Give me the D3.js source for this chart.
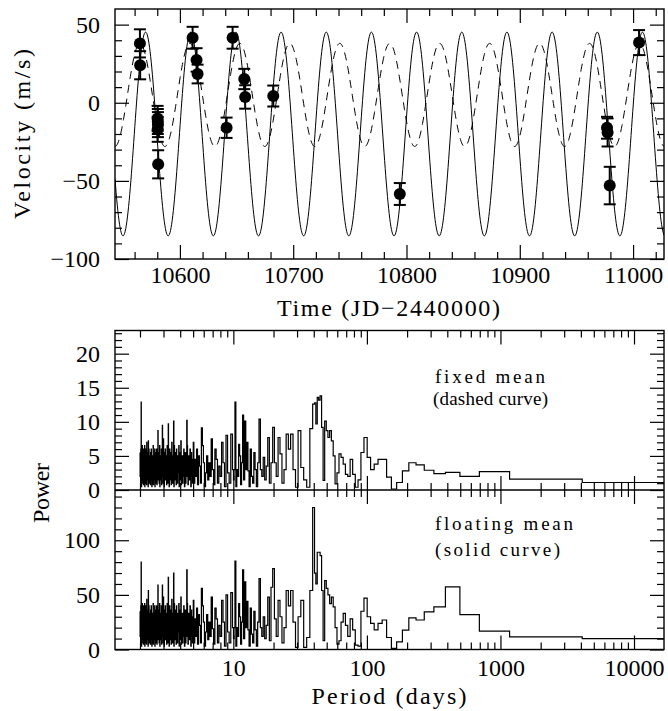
<!DOCTYPE html>
<html>
<head>
<meta charset="utf-8">
<script src="https://cdn.jsdelivr.net/npm/d3@7"></script>
<style>
  body { margin: 0; background: #fff; }
  text { font-family: "Liberation Serif", "DejaVu Serif", serif; fill: #000; }
</style>
</head>
<body>
<svg id="chart" width="668" height="711"></svg>
<script>
const SVG = d3.select("#chart");
const SERIF = '"Liberation Serif", "DejaVu Serif", serif';
const TICK_FONT = 24;
const TITLE_FONT = 24;
const NOTE_FONT = 19;

// radial velocity observations (JD-2440000, m/s)
const OBS_TIME = [10564.7, 10564.9, 10580.3, 10580.5, 10580.6, 10580.4, 10580.8, 10611.2, 10614.7, 10615.6,
  10641.2, 10646.5, 10656.8, 10657.6, 10682.4, 10794.1, 10977.0, 10977.5, 10979.4, 11005.3];
const OBS_VEL = [38, 24, -10, -12, -14, -17, -39.4, 41.6, 27.4, 18.4,
  -16, 41.6, 15.2, 3.7, 4.3, -58.4, -16, -19, -53, 38.5];
const OBS_ERR = [9, 9, 8, 8, 8, 8, 9, 7, 7.5, 6,
  6.5, 7, 6.5, 7.5, 6.7, 7, 7, 9, 12, 8];

// fitted sine curves
const FIT_SOLID = { mean: -20, amp: 65.2, period: 39.87, tmax: 10569.7 };
const FIT_DASHED = { mean: 5, amp: 33, period: 44.1, tmax: 10697 };

const TIME_DOMAIN = [10542.7, 11027.3];
const VEL_DOMAIN = [-100, 60];
const TIME_MAJOR = [10600, 10700, 10800, 10900, 11000];
const VEL_MAJOR = [-100, -50, 0, 50];

// periodograms: first bin is the longest period, then frequency grids
const PERIOD_DOMAIN = [1.3, 16770];
const LONG_BIN_PERIOD = 10350;
const LOW_F0 = 5.1e-5, LOW_DF = 5.66e-4;   // k = 1..44
const MID_F0 = 0.026, MID_DF = 0.0015;     // 38 d .. 10 d
const HIGH_F0 = 0.1, HIGH_DF = 0.003;      // 10 d .. 5 d
const VHIGH_F0 = 0.2, VHIGH_DF = 0.0015;   // 5 d .. 2 d

const FIXED_LOW = [1.1, 1.6, 2.7, 2.0, 2.6, 2.4, 2.9, 3.7, 4.0, 2.8,
  1.1, 0.15, 1.9, 4.5, 4.5, 3.8, 3.0, 4.8, 7.7, 5.5,
  1.5, 0.4, 2.3, 4.5, 2.0, 2.3, 3.8, 4.8, 5.3, 2.5,
  0.9, 5.0, 7.2, 8.7, 7.7, 8.7, 10.1, 1.4, 9.2, 13.8,
  13.2, 13.6, 9.7, 12.8, 12.6];
const FIXED_MID = [9.0, 0.4, 1.5, 3.3, 8.7, 0.4, 3.0, 8.2, 6.0, 8.2,
  3.0, 1.0, 5.3, 7.7, 2.0, 4.0, 9.2, 4.0, 1.0, 7.7,
  3.5, 1.5, 4.8, 2.0, 3.0, 10.4, 4.0, 0.5, 3.0, 5.5,
  1.0, 2.0, 6.0, 0.5, 2.8, 7.0, 3.0, 10.1, 1.5, 11.0,
  4.0, 0.8, 5.0, 6.7, 2.0, 3.0, 0.5, 12.9, 3.0, 1.5];
const FIXED_HIGH = [3.0, 8.2, 1.0, 2.5, 8.0, 0.5, 4.0, 7.0, 2.0, 3.5,
  1.0, 4.5, 6.0, 0.8, 3.0, 7.5, 2.0, 4.0, 1.5, 5.0,
  2.5, 0.5, 4.0, 6.5, 9.1, 1.0, 3.5, 5.0, 0.8, 6.0,
  2.0, 4.5, 1.0, 7.0];
const FIXED_VHIGH = [3.5, 1.0, 4.5, 2.0, 5.5, 0.5, 3.0, 6.0, 1.5, 4.0,
  2.5, 5.0, 0.8, 3.5, 6.5, 10.2, 2.0, 4.5, 1.0, 5.5,
  3.0, 0.5, 4.0, 6.0, 2.0, 3.5, 1.0, 5.0, 2.5, 4.5,
  0.8, 7.2, 3.0, 5.5, 1.5, 4.0, 0.5, 6.5, 2.5, 3.5,
  5.0, 1.0, 4.5, 2.0, 6.0, 0.8, 3.5, 5.5, 1.5, 4.0,
  2.5, 6.5, 0.5, 10.1, 3.0, 5.0, 1.0, 4.5, 2.0, 7.0,
  3.5, 0.8, 5.5, 2.5, 4.0, 1.5, 6.0, 3.0, 0.5, 5.0,
  2.0, 9.7, 3.5, 1.0, 4.5, 6.5, 2.5, 0.8, 5.0, 3.0,
  4.0, 1.5, 6.0, 2.0, 3.5, 5.5, 0.5, 4.5, 2.5, 7.5,
  1.0, 3.0, 5.0, 9.5, 2.0, 4.0, 0.8, 6.0, 3.5, 1.5,
  5.0, 2.5, 4.5, 0.5, 6.5, 3.0, 1.0, 5.5, 2.0, 4.0,
  3.5, 8.7, 1.5, 5.0, 2.5, 0.8, 4.5, 6.0, 2.0, 3.5,
  1.0, 5.5, 3.0, 4.0, 0.5, 6.0, 2.5, 4.5, 1.5, 5.0,
  3.5, 0.8, 6.5, 2.0, 4.0, 1.0, 5.0, 3.0, 0.5, 4.5,
  2.5, 6.0, 1.5, 3.5, 5.5, 0.8, 4.0, 2.0, 5.0, 3.0,
  1.0, 4.5, 6.0, 2.5, 3.5, 7.2, 0.5, 5.0, 2.0, 4.0,
  1.5, 5.5, 3.0, 7.0, 0.8, 4.5, 2.5, 6.0, 1.0, 3.5,
  5.0, 2.0, 4.0, 0.5, 6.5, 3.0, 1.5, 5.5, 2.5, 4.5,
  0.8, 6.0, 3.5, 1.0, 5.0, 2.0, 4.0, 6.5, 1.5, 3.0,
  5.5, 0.5, 4.5, 12.9, 2.5, 6.0, 1.0, 3.5, 5.0, 2.0,
  5.5];

const FLOAT_LOW = [10, 11.6, 16.8, 32, 57.4, 39, 34.5, 27, 29, 17.7,
  7, 1, 11, 27, 24, 18, 24, 30, 47, 35,
  3, 4, 18, 28, 12, 22, 33, 25, 8, 5,
  20, 39, 48, 42, 50, 56, 63, 8, 54, 86,
  89, 89, 60, 70, 130];
const FLOAT_MID = [54, 11, 2, 45, 30, 2, 25, 54, 40, 54,
  20, 6, 30, 45, 12, 28, 74, 57, 8, 48,
  22, 10, 30, 12, 20, 65, 25, 3, 18, 35,
  6, 14, 38, 3, 18, 44, 20, 62, 10, 73,
  25, 5, 30, 42, 12, 20, 3, 81, 20, 10];
const FLOAT_HIGH = [20, 52, 6, 16, 50, 3, 25, 45, 12, 22,
  6, 28, 38, 5, 19, 48, 12, 25, 9, 32,
  16, 3, 25, 40, 56, 6, 22, 32, 5, 38,
  12, 28, 6, 45];
const FLOAT_VHIGH = [22, 6, 30, 12, 36, 3, 19, 40, 9, 26,
  16, 33, 5, 22, 42, 73, 12, 29, 6, 36,
  19, 3, 26, 40, 12, 22, 6, 33, 16, 29,
  5, 48, 19, 36, 9, 26, 3, 42, 16, 22,
  33, 6, 29, 12, 40, 5, 22, 36, 9, 26,
  16, 42, 3, 70, 19, 33, 6, 29, 12, 46,
  22, 5, 36, 16, 26, 9, 40, 19, 3, 33,
  12, 66, 22, 6, 29, 42, 16, 5, 33, 19,
  26, 9, 40, 12, 22, 36, 3, 29, 16, 48,
  6, 19, 33, 59, 12, 26, 5, 40, 22, 9,
  33, 16, 29, 3, 42, 19, 6, 36, 12, 26,
  22, 59, 9, 33, 16, 5, 29, 40, 12, 22,
  6, 36, 19, 26, 3, 40, 16, 29, 9, 33,
  22, 5, 42, 12, 26, 6, 33, 19, 3, 29,
  16, 40, 9, 22, 36, 5, 26, 12, 33, 19,
  6, 29, 40, 16, 22, 54, 3, 33, 12, 26,
  9, 36, 19, 46, 5, 29, 16, 40, 6, 22,
  33, 12, 26, 3, 42, 19, 9, 36, 16, 29,
  5, 40, 22, 6, 33, 12, 26, 42, 9, 19,
  36, 3, 29, 80, 16, 40, 6, 22, 33, 12,
  35];

const FIXED_DOMAIN = [0, 23.4];
const FIXED_MAJOR = [0, 5, 10, 15, 20];
const FLOAT_DOMAIN = [0, 146];
const FLOAT_MAJOR = [0, 50, 100];
const PERIOD_MAJOR = [10, 100, 1000, 10000];

// layout
const LEFT = 115, RIGHT = 664;
const TOP1 = 9, BOT1 = 259;
const TOP2 = 330.5, MID2 = 490, BOT2 = 649.5;

const X_TIME = d3.scaleLinear().domain(TIME_DOMAIN).range([LEFT, RIGHT]);
const Y_VEL = d3.scaleLinear().domain(VEL_DOMAIN).range([BOT1, TOP1]);
const X_PER = d3.scaleLog().domain(PERIOD_DOMAIN).range([LEFT, RIGHT]);
const Y_FIX = d3.scaleLinear().domain(FIXED_DOMAIN).range([MID2, TOP2]);
const Y_FLT = d3.scaleLinear().domain(FLOAT_DOMAIN).range([BOT2, MID2]);

function tickAxis(orient, scale, values, size, at, pad, labels) {
  const make = { bottom: d3.axisBottom, top: d3.axisTop, left: d3.axisLeft, right: d3.axisRight }[orient];
  const axis = make(scale).tickValues(values).tickSize(-size).tickPadding(pad || 0)
    .tickFormat(labels ? d3.format("d") : "");
  const horiz = orient === "bottom" || orient === "top";
  const g = SVG.append("g")
    .attr("transform", horiz ? `translate(0,${at})` : `translate(${at},0)`)
    .call(axis);
  g.select(".domain").remove();
  g.attr("font-family", SERIF).attr("font-size", TICK_FONT);
  g.selectAll(".tick line").attr("stroke-width", 1.2);
  g.selectAll(".tick text").attr("fill", "#000");
  return g;
}

function minorsBetween(lo, hi, step, majors) {
  return d3.range(lo, hi + step / 2, step).filter(v => !majors.includes(v));
}

function logMinors(domain) {
  const out = [];
  for (let d = 0; d <= 4; d++) {
    for (let m = 2; m <= 9; m++) {
      const v = m * Math.pow(10, d);
      if (v > domain[0] && v < domain[1]) out.push(v);
    }
  }
  return out;
}

// ---------- top panel ----------
SVG.append("clipPath").attr("id", "clip1")
  .append("rect").attr("x", LEFT).attr("y", TOP1).attr("width", RIGHT - LEFT).attr("height", BOT1 - TOP1);

function sineCurve(fit) {
  return d3.range(TIME_DOMAIN[0], TIME_DOMAIN[1] + 0.5, 0.5).map(t => ({
    t, v: fit.mean + fit.amp * Math.cos(2 * Math.PI * (t - fit.tmax) / fit.period)
  }));
}
const VEL_LINE = d3.line().x(d => X_TIME(d.t)).y(d => Y_VEL(d.v));

SVG.append("path").datum(sineCurve(FIT_SOLID))
  .attr("clip-path", "url(#clip1)")
  .attr("d", VEL_LINE).attr("fill", "none").attr("stroke", "#000").attr("stroke-width", 1);
SVG.append("path").datum(sineCurve(FIT_DASHED))
  .attr("clip-path", "url(#clip1)")
  .attr("d", VEL_LINE).attr("fill", "none").attr("stroke", "#000").attr("stroke-width", 1)
  .attr("stroke-dasharray", "8,6");

const OBS = OBS_TIME.map((t, i) => ({ t, v: OBS_VEL[i], e: OBS_ERR[i] }));
const ERR = SVG.append("g").attr("stroke", "#000").attr("stroke-width", 2);
ERR.selectAll("line.bar").data(OBS).enter().append("line")
  .attr("x1", d => X_TIME(d.t)).attr("x2", d => X_TIME(d.t))
  .attr("y1", d => Y_VEL(d.v - d.e)).attr("y2", d => Y_VEL(d.v + d.e));
[-1, 1].forEach(s => {
  ERR.selectAll(null).data(OBS).enter().append("line")
    .attr("x1", d => X_TIME(d.t) - 6).attr("x2", d => X_TIME(d.t) + 6)
    .attr("y1", d => Y_VEL(d.v + s * d.e)).attr("y2", d => Y_VEL(d.v + s * d.e));
});
SVG.append("g").selectAll("circle").data(OBS).enter().append("circle")
  .attr("cx", d => X_TIME(d.t)).attr("cy", d => Y_VEL(d.v)).attr("r", 6).attr("fill", "#000");

const TIME_MINOR = minorsBetween(10560, 11020, 20, TIME_MAJOR);
const VEL_MINOR = minorsBetween(-90, 50, 10, VEL_MAJOR);
tickAxis("bottom", X_TIME, TIME_MAJOR, 14, BOT1, 7, true);
tickAxis("bottom", X_TIME, TIME_MINOR, 7, BOT1);
tickAxis("top", X_TIME, TIME_MAJOR, 14, TOP1);
tickAxis("top", X_TIME, TIME_MINOR, 7, TOP1);
tickAxis("left", Y_VEL, VEL_MAJOR, 14, LEFT, 15, true);
tickAxis("left", Y_VEL, VEL_MINOR, 7, LEFT);
tickAxis("right", Y_VEL, VEL_MAJOR, 14, RIGHT);
tickAxis("right", Y_VEL, VEL_MINOR, 7, RIGHT);

SVG.append("rect").attr("x", LEFT).attr("y", TOP1).attr("width", RIGHT - LEFT).attr("height", BOT1 - TOP1)
  .attr("fill", "none").attr("stroke", "#000").attr("stroke-width", 1.4);

SVG.append("text").attr("transform", "translate(30,134) rotate(-90)")
  .attr("text-anchor", "middle").attr("font-size", TITLE_FONT)
  .attr("textLength", 170).attr("lengthAdjust", "spacing")
  .text("Velocity (m/s)");
SVG.append("text").attr("x", 388.5).attr("y", 316)
  .attr("text-anchor", "middle").attr("font-size", TITLE_FONT)
  .attr("textLength", 223).attr("lengthAdjust", "spacing")
  .text("Time (JD\u22122440000)");

// ---------- periodograms ----------
function spectrum(low, mid, high, vhigh) {
  const pts = [];
  low.forEach((p, k) => pts.push({ period: k === 0 ? LONG_BIN_PERIOD : 1 / (LOW_F0 + k * LOW_DF), power: p }));
  mid.forEach((p, i) => pts.push({ period: 1 / (MID_F0 + i * MID_DF), power: p }));
  high.forEach((p, i) => pts.push({ period: 1 / (HIGH_F0 + i * HIGH_DF), power: p }));
  vhigh.forEach((p, i) => pts.push({ period: 1 / (VHIGH_F0 + i * VHIGH_DF), power: p }));
  pts.sort((a, b) => a.period - b.period);
  pts.push({ period: PERIOD_DOMAIN[1], power: pts[pts.length - 1].power });
  return pts;
}

SVG.append("clipPath").attr("id", "clip2")
  .append("rect").attr("x", LEFT).attr("y", TOP2).attr("width", RIGHT - LEFT).attr("height", BOT2 - TOP2);

[[FIXED_LOW, FIXED_MID, FIXED_HIGH, FIXED_VHIGH, Y_FIX],
 [FLOAT_LOW, FLOAT_MID, FLOAT_HIGH, FLOAT_VHIGH, Y_FLT]].forEach(([lo, mi, hi, vh, y]) => {
  const line = d3.line().x(d => X_PER(d.period)).y(d => y(d.power)).curve(d3.curveStep);
  SVG.append("path").datum(spectrum(lo, mi, hi, vh))
    .attr("clip-path", "url(#clip2)")
    .attr("d", line).attr("fill", "none").attr("stroke", "#000").attr("stroke-width", 1.2);
});

const PER_MINOR = logMinors(PERIOD_DOMAIN);
const FIX_MINOR = minorsBetween(1, 23, 1, FIXED_MAJOR);
const FLT_MINOR = minorsBetween(10, 140, 10, FLOAT_MAJOR);

// upper (fixed mean)
tickAxis("top", X_PER, PERIOD_MAJOR, 14, TOP2);
tickAxis("top", X_PER, PER_MINOR, 7, TOP2);
tickAxis("bottom", X_PER, PERIOD_MAJOR, 14, MID2);
tickAxis("bottom", X_PER, PER_MINOR, 7, MID2);
tickAxis("left", Y_FIX, FIXED_MAJOR, 14, LEFT, 15, true);
tickAxis("left", Y_FIX, FIX_MINOR, 7, LEFT);
tickAxis("right", Y_FIX, FIXED_MAJOR, 14, RIGHT);
tickAxis("right", Y_FIX, FIX_MINOR, 7, RIGHT);
// lower (floating mean)
tickAxis("top", X_PER, PERIOD_MAJOR, 14, MID2);
tickAxis("top", X_PER, PER_MINOR, 7, MID2);
tickAxis("bottom", X_PER, PERIOD_MAJOR, 14, BOT2, 9, true);
tickAxis("bottom", X_PER, PER_MINOR, 7, BOT2);
tickAxis("left", Y_FLT, FLOAT_MAJOR, 14, LEFT, 15, true);
tickAxis("left", Y_FLT, FLT_MINOR, 7, LEFT);
tickAxis("right", Y_FLT, FLOAT_MAJOR, 14, RIGHT);
tickAxis("right", Y_FLT, FLT_MINOR, 7, RIGHT);

SVG.append("rect").attr("x", LEFT).attr("y", TOP2).attr("width", RIGHT - LEFT).attr("height", BOT2 - TOP2)
  .attr("fill", "none").attr("stroke", "#000").attr("stroke-width", 1.4);
SVG.append("line").attr("x1", LEFT).attr("x2", RIGHT).attr("y1", MID2).attr("y2", MID2)
  .attr("stroke", "#000").attr("stroke-width", 1.4);

const NOTES = [
  { text: "fixed mean", x: 435, y: 383, len: 110 },
  { text: "(dashed curve)", x: 433, y: 405, len: 115 },
  { text: "floating mean", x: 435, y: 530, len: 138 },
  { text: "(solid curve)", x: 435, y: 556, len: 125 }
];
SVG.selectAll("text.note").data(NOTES).enter().append("text")
  .attr("class", "note").attr("x", d => d.x).attr("y", d => d.y)
  .attr("font-size", NOTE_FONT).attr("textLength", d => d.len).attr("lengthAdjust", "spacing")
  .text(d => d.text);

SVG.append("text").attr("transform", "translate(49,493) rotate(-90)")
  .attr("text-anchor", "middle").attr("font-size", TITLE_FONT)
  .attr("textLength", 60).attr("lengthAdjust", "spacing")
  .text("Power");
SVG.append("text").attr("x", 389).attr("y", 704)
  .attr("text-anchor", "middle").attr("font-size", TITLE_FONT)
  .attr("textLength", 155).attr("lengthAdjust", "spacing")
  .text("Period (days)");
</script>
</body>
</html>
